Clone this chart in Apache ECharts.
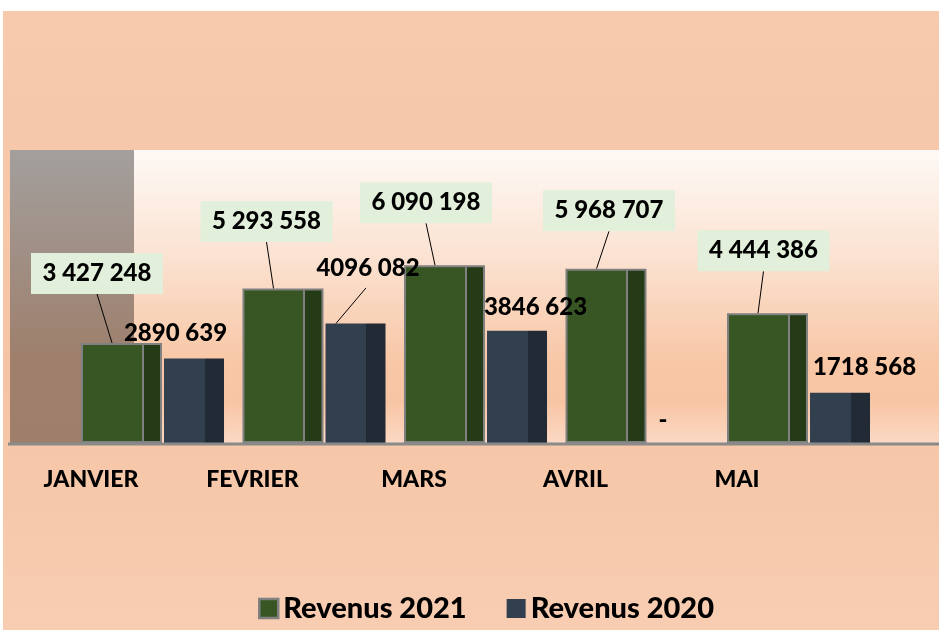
<!DOCTYPE html>
<html>

<head>
    <meta charset="utf-8">
</head>

<body style="margin: 0; background: #fff">
    <div id="container" style="width: 939px; height: 630px"></div>
    <script type="text/javascript" src="https://cdn.jsdelivr.net/npm/echarts@6/dist/echarts.min.js"></script>
    <script>
        // données
        var months = ['JANVIER', 'FEVRIER', 'MARS', 'AVRIL', 'MAI']
        var rev2021 = [3427248, 5293558, 6090198, 5968707, 4444386]
        var rev2020 = [2890639, 4096082, 3846623, 0, 1718568]

        var myChart = echarts.init(document.getElementById('container'))

        function fmtFull(v) {
            return String(v).replace(/\B(?=(\d{3})+(?!\d))/g, ' ')
        }
        function fmtLast(v) {
            if (!v) return '-'
            var r = String(v % 1000)
            while (r.length < 3) r = '0' + r
            return Math.floor(v / 1000) + ' ' + r
        }

        var G = '#375623', GD = '#253a17', N = '#323f4f', ND = '#222a35', BORDER = '#808080'
        var FONT = 'Lato'
        var W = 900

        // décalages des étiquettes (centre de l'étiquette par rapport au haut de la bande)
        var shift21 = [[-55.5, -69.5], [-47.5, -67], [-49.5, -62.5], [-28, -58], [-35, -62.5]]
        var shift20 = [[23, -25.5], [54, -55.5], [60, -23], [26, -23], [66, -26]]

        var option = {
            backgroundColor: '#fff',
            animation: false,
            graphic: [
                {
                    type: 'rect', z: -10, silent: true,
                    shape: { x: 3, y: 11, width: 936, height: 619 },
                    style: {
                        fill: new echarts.graphic.LinearGradient(0, 0, 0, 1, [
                            { offset: 0, color: '#f7caae' },
                            { offset: 0.6, color: '#f5c4a4' },
                            { offset: 1, color: '#f8cdb2' }
                        ])
                    }
                },
                {
                    type: 'rect', z: -9, silent: true,
                    shape: { x: 10, y: 150, width: 929, height: 293 },
                    style: {
                        fill: new echarts.graphic.LinearGradient(0, 0, 0, 1, [
                            { offset: 0, color: '#fef9f5' },
                            { offset: 0.35, color: '#fbe3d3' },
                            { offset: 0.72, color: '#f8c7a6' },
                            { offset: 0.86, color: '#f8c5a4' },
                            { offset: 1, color: '#fbd9c4' }
                        ])
                    }
                },
                {
                    type: 'rect', z: -8, silent: true,
                    shape: { x: 10, y: 150, width: 124, height: 293 },
                    style: {
                        fill: new echarts.graphic.LinearGradient(0, 0, 0, 1, [
                            { offset: 0, color: '#a39f9d' },
                            { offset: 0.7, color: '#9e806d' },
                            { offset: 1, color: '#9e7f6b' }
                        ])
                    }
                },
                {
                    type: 'line', z: 5, silent: true,
                    shape: { x1: 8, y1: 444, x2: 939, y2: 444 },
                    style: { stroke: '#8a8a8a', lineWidth: 3 }
                }
            ],
            legend: {
                left: 253,
                top: 589,
                icon: 'rect',
                itemWidth: 19,
                itemHeight: 19,
                itemGap: 40,
                textStyle: { fontFamily: FONT, fontWeight: W, fontSize: 29, color: '#000' },
                data: [
                    { name: 'Revenus 2021', itemStyle: { color: G, borderColor: BORDER, borderWidth: 2.5 } },
                    { name: 'Revenus 2020', itemStyle: { color: N, borderWidth: 0 } }
                ]
            },
            grid: { left: 71.75, right: 59.75, top: 151, bottom: 187 },
            xAxis: {
                type: 'category',
                data: months,
                axisLine: { show: false },
                axisTick: { show: false },
                axisLabel: {
                    interval: 0,
                    margin: 25,
                    padding: [0, 123, 0, 0],
                    color: '#000',
                    fontFamily: FONT,
                    fontWeight: W,
                    fontSize: 23
                }
            },
            yAxis: {
                type: 'value',
                min: 0,
                max: 10000000,
                show: false,
                splitLine: { show: false }
            },
            series: [
                {
                    name: 'Revenus 2021',
                    type: 'bar',
                    barWidth: 81,
                    barGap: '2.5%',
                    data: rev2021,
                    itemStyle: {
                        borderColor: BORDER,
                        borderWidth: 2,
                        color: new echarts.graphic.LinearGradient(0, 0, 1, 0, [
                            { offset: 0, color: G },
                            { offset: 0.75, color: G },
                            { offset: 0.75, color: BORDER },
                            { offset: 0.775, color: BORDER },
                            { offset: 0.775, color: GD },
                            { offset: 1, color: GD }
                        ])
                    }
                },
                {
                    name: 'Revenus 2020',
                    type: 'bar',
                    barWidth: 60,
                    data: rev2020,
                    itemStyle: {
                        color: new echarts.graphic.LinearGradient(0, 0, 1, 0, [
                            { offset: 0, color: N },
                            { offset: 0.683, color: N },
                            { offset: 0.683, color: ND },
                            { offset: 1, color: ND }
                        ])
                    }
                },
                {
                    type: 'custom',
                    z: 10,
                    silent: true,
                    data: months.map(function (m, i) { return [i, rev2021[i]] }),
                    renderItem: function (params, api) {
                        var i = api.value(0)
                        var v = api.value(1)
                        var top = api.coord([i, v])
                        var s = shift21[i]
                        var cx = top[0] + s[0], cy = top[1] + s[1]
                        return {
                            type: 'group',
                            children: [
                                {
                                    type: 'line',
                                    shape: { x1: cx, y1: cy + 20.5, x2: top[0] - 40.5, y2: top[1] },
                                    style: { stroke: '#000', lineWidth: 1 }
                                },
                                {
                                    type: 'rect',
                                    shape: { x: cx - 66, y: cy - 20.5, width: 132, height: 41 },
                                    style: { fill: '#e2efda' }
                                },
                                {
                                    type: 'text',
                                    x: cx, y: cy,
                                    style: {
                                        text: fmtFull(v), fill: '#000', align: 'center', verticalAlign: 'middle',
                                        font: W + ' 24px ' + FONT
                                    }
                                }
                            ]
                        }
                    }
                },
                {
                    type: 'custom',
                    z: 10,
                    silent: true,
                    data: months.map(function (m, i) { return [i, rev2020[i]] }),
                    renderItem: function (params, api) {
                        var i = api.value(0)
                        var v = api.value(1)
                        var top = api.coord([i, v])
                        var s = shift20[i]
                        var cx = top[0] + s[0], cy = top[1] + s[1]
                        var children = [{
                            type: 'text',
                            x: cx, y: cy,
                            style: {
                                text: fmtLast(v), fill: '#000', align: 'center', verticalAlign: 'middle',
                                font: W + ' 24px ' + FONT
                            }
                        }]
                        // trait de rappel pour FEVRIER
                        if (i === 1) {
                            children.unshift({
                                type: 'line',
                                shape: { x1: cx - 2, y1: cy + 20, x2: top[0] + 22, y2: top[1] },
                                style: { stroke: '#000', lineWidth: 1 }
                            })
                        }
                        return { type: 'group', children: children }
                    }
                }
            ]
        }
        myChart.setOption(option)
    </script>

</body>

</html>
